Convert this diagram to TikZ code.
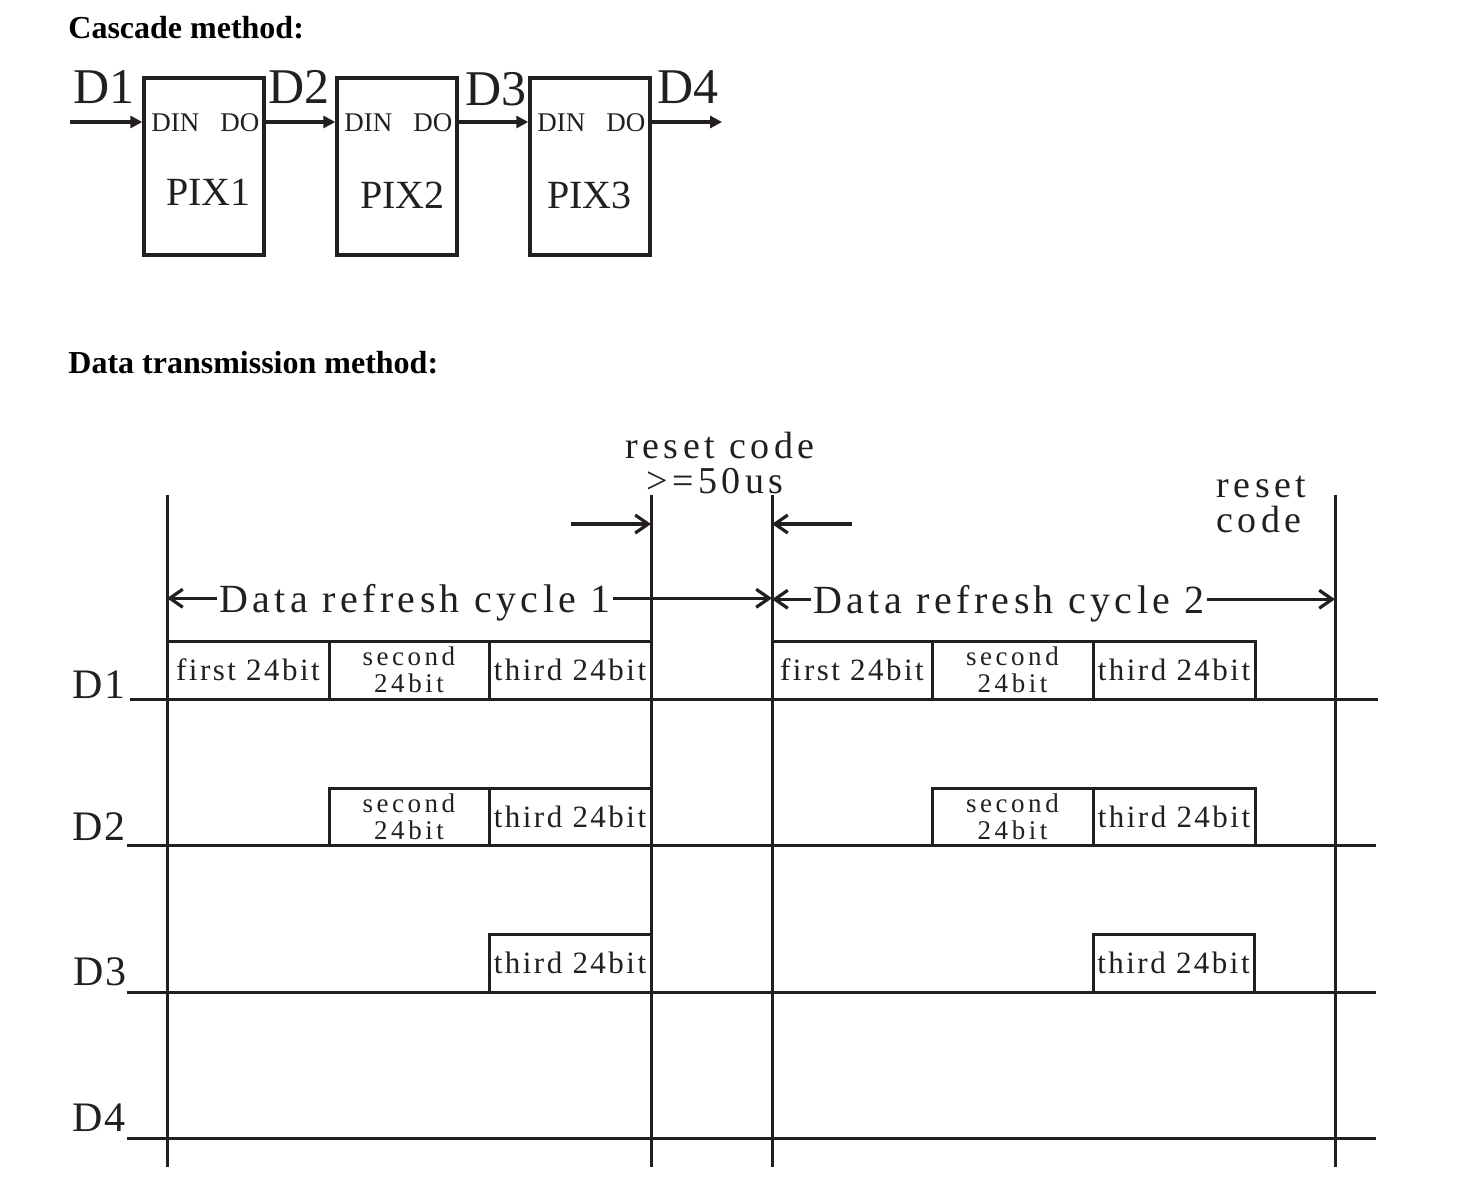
\documentclass[tikz,border=0pt]{standalone}
\usepackage{fontspec}
\setmainfont{Liberation Serif}
\newfontfamily\lsA[LetterSpace=8]{Liberation Serif}
\newfontfamily\lsE[LetterSpace=13]{Liberation Serif}
\newfontfamily\lsB[LetterSpace=11]{Liberation Serif}
\newfontfamily\lsC[LetterSpace=12]{Liberation Serif}
\newfontfamily\lsD[LetterSpace=5]{Liberation Serif}
\usetikzlibrary{arrows.meta}
\definecolor{ink}{HTML}{231F20}
\begin{document}
\begin{tikzpicture}[x=0.5pt,y=-0.5pt,
  title/.style={font=\bfseries\fontsize{16}{19}\selectfont, anchor=base west, inner sep=0pt, text=black},
  bigD/.style={font=\fontsize{25}{30}\selectfont, anchor=base west, inner sep=0pt, text=ink},
  pinlbl/.style={font=\fontsize{13.5}{15}\selectfont, anchor=base west, inner sep=0pt, text=ink},
  pixlbl/.style={font=\fontsize{20}{24}\selectfont, anchor=base west, inner sep=0pt, text=ink},
  pixbox/.style={draw=ink, line width=1.7pt, minimum width=60pt, minimum height=88.5pt, inner sep=0pt},
  fa/.style={draw=ink, line width=1.6pt, -{Triangle[length=6pt,width=6pt]}},
  tline/.style={draw=ink, line width=1.5pt},
  oa/.style={draw=ink, line width=1.6pt, -{Straight Barb[length=6.5pt,width=9pt]}},
  cell/.style={draw=ink, line width=1.5pt, inner sep=0pt, font=\lsA\fontsize{15.5}{14}\selectfont, align=center, text=ink},
  cell2/.style={cell, font=\lsE\fontsize{13.5}{13.5}\selectfont},
  rowlbl/.style={font=\lsD\fontsize{21}{24}\selectfont, anchor=base west, inner sep=0pt, text=ink},
  rclbl/.style={font=\lsC\fontsize{19}{20}\selectfont, inner sep=0pt, text=ink},
  cyc/.style={font=\lsB\fontsize{20}{22}\selectfont, anchor=base west, inner sep=1pt, text=ink}
]
\useasboundingbox (0,0) rectangle (1478,1190);

% ---------- Cascade method ----------
\node[title] (t1) at (68,38) {Cascade method:};

\node[pixbox] (pix1) at (204,166.5) {};
\node[pixbox] (pix2) at (397,166.5) {};
\node[pixbox] (pix3) at (590,166.5) {};

\node[bigD] (cd1) at (73,103) {D1};
\node[bigD] (cd2) at (268,103) {D2};
\node[bigD] (cd3) at (465,105) {D3};
\node[bigD] (cd4) at (657,103) {D4};

\node[pinlbl] (din1) at (151,131) {DIN};
\node[pinlbl] (do1) at (220,131) {DO};
\node[pinlbl] (din2) at (344,131) {DIN};
\node[pinlbl] (do2) at (413,131) {DO};
\node[pinlbl] (din3) at (537,131) {DIN};
\node[pinlbl] (do3) at (606,131) {DO};

\node[pixlbl] (p1) at (166,205) {PIX1};
\node[pixlbl] (p2) at (360,208) {PIX2};
\node[pixlbl] (p3) at (547,208) {PIX3};

\coordinate (in1) at (70,122);
\coordinate (out1) at (722,122);
\draw[fa] (in1) -- (in1 -| pix1.west);
\draw[fa] (pix1.east |- in1) -- (pix2.west |- in1);
\draw[fa] (pix2.east |- in1) -- (pix3.west |- in1);
\draw[fa] (pix3.east |- in1) -- (out1);

% ---------- Data transmission method ----------
\node[title] (t2) at (68,373) {Data transmission method:};

% vertical lines
\coordinate (v1t) at (167,495);  \coordinate (v1b) at (167,1167);
\coordinate (v2t) at (651,495);  \coordinate (v2b) at (651,1167);
\coordinate (v3t) at (772,495);  \coordinate (v3b) at (772,1167);
\coordinate (v4t) at (1335,495); \coordinate (v4b) at (1335,1167);

% cells (pulses)
\node[cell, minimum width=81pt, minimum height=29pt] (a11) at (248,670) {first 24bit};
\node[cell2, minimum width=80pt, minimum height=29pt] (a12) at (409,670) {second\\24bit};
\node[cell, minimum width=81pt, minimum height=29pt] (a13) at (570,670) {third 24bit};
\node[cell, minimum width=80pt, minimum height=29pt] (b11) at (852,670) {first 24bit};
\node[cell2, minimum width=80.5pt, minimum height=29pt] (b12) at (1012.5,670) {second\\24bit};
\node[cell, minimum width=81pt, minimum height=29pt] (b13) at (1174,670) {third 24bit};

\node[cell2, minimum width=80pt, minimum height=28.5pt] (a22) at (409,816.5) {second\\24bit};
\node[cell, minimum width=81pt, minimum height=28.5pt] (a23) at (570,816.5) {third 24bit};
\node[cell2, minimum width=80.5pt, minimum height=28.5pt] (b22) at (1012.5,816.5) {second\\24bit};
\node[cell, minimum width=81pt, minimum height=28.5pt] (b23) at (1174,816.5) {third 24bit};

\node[cell, minimum width=81pt, minimum height=29pt] (a33) at (570,963) {third 24bit};
\node[cell, minimum width=80.5pt, minimum height=29pt] (b33) at (1173.5,963) {third 24bit};

% row lines
\coordinate (r1a) at (130,699);  \coordinate (r1b) at (1378,699);
\coordinate (r2a) at (127,845);  \coordinate (r2b) at (1376,845);
\coordinate (r3a) at (127,992);  \coordinate (r3b) at (1376,992);
\coordinate (r4a) at (127,1138); \coordinate (r4b) at (1376,1138);
\draw[tline] (r1a) -- (r1b);
\draw[tline] (r2a) -- (r2b);
\draw[tline] (r3a) -- (r3b);
\draw[tline] (r4a) -- (r4b);

\draw[tline] (v1t) -- (v1b);
\draw[tline] (v2t) -- (v2b);
\draw[tline] (v3t) -- (v3b);
\draw[tline] (v4t) -- (v4b);

% row labels
\node[rowlbl] (l1) at (72,698) {D1};
\node[rowlbl] (l2) at (72,840) {D2};
\node[rowlbl] (l3) at (73,985) {D3};
\node[rowlbl] (l4) at (72,1131) {D4};

% reset code labels
\node[rclbl, anchor=base] (rc1) at (720,458) {reset code};
\node[rclbl, anchor=base] (rc2) at (715,493) {>=50us};
\node[rclbl, anchor=base west] (rc3) at (1216,497) {reset};
\node[rclbl, anchor=base west] (rc4) at (1216,532) {code};

% reset arrows
\coordinate (ra1) at (571,524);
\coordinate (ra2) at (852,524);
\draw[oa] (ra1) -- (ra1 -| v2t);
\draw[oa] (ra2) -- (ra2 -| v3t);

% cycle arrows
\node[cyc] (cy1) at (217,612) {Data refresh cycle 1};
\node[cyc] (cy2) at (811,613) {Data refresh cycle 2};
\draw[oa] ([yshift=2pt]cy1.west) -- ([yshift=2pt]cy1.west -| v1t);
\draw[oa] ([yshift=2pt]cy1.east) -- ([yshift=2pt]cy1.east -| v3t);
\draw[oa] ([yshift=2pt]cy2.west) -- ([yshift=2pt]cy2.west -| v3t);
\draw[oa] ([yshift=2pt]cy2.east) -- ([yshift=2pt]cy2.east -| v4t);
\end{tikzpicture}
\end{document}
